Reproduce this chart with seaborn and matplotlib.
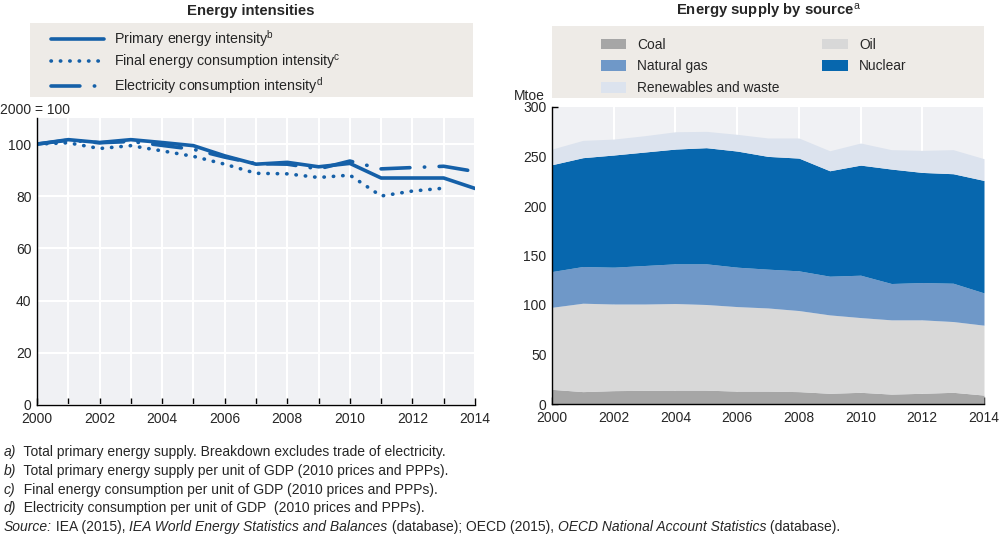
import matplotlib
matplotlib.use("Agg")
import matplotlib.pyplot as plt
from matplotlib import font_manager
from matplotlib.patches import Rectangle
import numpy as np
import seaborn as sns

# --- data -------------------------------------------------------------
years = list(range(2000, 2015))

# Energy intensities, 2000 = 100
primary = [100, 101.7, 100.6, 101.7, 100.6, 99.4, 95.5, 92.3, 93.0, 91.3, 92.6, 87.0, 87.0, 87.0, 83.0]
final = [100, 100.5, 98.3, 99.4, 97.4, 95.3, 92.3, 88.8, 88.6, 87.2, 88.1, 80.1, 82.0, 83.1, np.nan]
electricity = [100, 101.5, 100.5, 101.0, 99.5, 98.0, 95.0, 92.5, 92.3, 90.5, 93.5, 90.5, 91.0, 91.5, 89.5]

# Energy supply by source, Mtoe
coal = [14.8, 12.5, 13.5, 13.8, 14.0, 14.0, 13.0, 13.0, 12.5, 10.8, 11.8, 10.0, 10.8, 11.8, 9.0]
oil = [82.9, 89.3, 87.5, 87.2, 87.5, 86.5, 85.4, 84.0, 81.9, 79.2, 75.5, 75.0, 74.2, 71.5, 70.6]
gas = [36.1, 37.1, 37.2, 38.9, 40.1, 41.1, 39.8, 39.2, 40.1, 39.1, 42.8, 36.7, 37.7, 38.7, 32.6]
nuclear = [107.9, 109.9, 113.3, 114.6, 115.9, 117.3, 117.3, 113.9, 113.9, 106.5, 111.2, 115.6, 111.2, 110.6, 113.6]
renewables = [15.8, 17.5, 16.1, 16.5, 17.5, 16.5, 16.9, 18.6, 20.3, 20.2, 22.3, 19.6, 22.3, 24.3, 22.0]

src_labels = ["Coal", "Oil", "Natural gas", "Nuclear", "Renewables and waste"]

notes = [
    [("a)", "italic"), ("  Total primary energy supply. Breakdown excludes trade of electricity.", "normal")],
    [("b)", "italic"), ("  Total primary energy supply per unit of GDP (2010 prices and PPPs).", "normal")],
    [("c)", "italic"), ("  Final energy consumption per unit of GDP (2010 prices and PPPs).", "normal")],
    [("d)", "italic"), ("  Electricity consumption per unit of GDP  (2010 prices and PPPs).", "normal")],
    [("Source:", "italic"), (" IEA (2015), ", "normal"),
     ("IEA World Energy Statistics and Balances", "italic"),
     (" (database); OECD (2015), ", "normal"),
     ("OECD National Account Statistics", "italic"), (" (database).", "normal")],
]

# --- style ------------------------------------------------------------
try:
    font_manager.findfont("Liberation Sans Narrow", fallback_to_default=False)
    FONT, k = "Liberation Sans Narrow", 1.0
except ValueError:
    FONT, k = "Liberation Sans", 0.84

sns.set_theme(style="white")
plt.rcParams["font.family"] = [FONT, "DejaVu Sans"]
plt.rcParams["mathtext.fontset"] = "custom"
plt.rcParams["mathtext.rm"] = FONT
plt.rcParams["mathtext.it"] = FONT + ":italic"

LINE = "#1560a8"
PLOT_BG = "#f0f1f4"
LEG_BG = "#eeebe7"
TICK = 11.9 * k

fig = plt.figure(figsize=(10, 5.38), dpi=100)
W, H = 1000, 538


def fig_rect(x0, y0, x1, y1):
    # pixel box (top-left origin) -> figure fraction [left, bottom, w, h]
    return [x0 / W, 1 - y1 / H, (x1 - x0) / W, (y1 - y0) / H]


def style_axes(ax):
    ax.set_facecolor(PLOT_BG)
    for s in ["top", "right"]:
        ax.spines[s].set_visible(False)
    for s in ["left", "bottom"]:
        ax.spines[s].set_color("black")
        ax.spines[s].set_linewidth(1)
    ax.set_xlim(2000, 2014)
    ax.set_xlabel("")
    ax.set_ylabel("")
    ax.tick_params(axis="x", direction="in", length=5, width=1, color="black",
                   labelsize=TICK, pad=5, bottom=True)
    ax.tick_params(axis="y", labelsize=TICK, pad=4)


# --- left: energy intensities -----------------------------------------
ax1 = fig.add_axes(fig_rect(37, 118, 475, 405))
ax1.grid(True, color="white", lw=1.5)
ax1.set_axisbelow(True)

sns.lineplot(x=years, y=primary, ax=ax1, color=LINE, lw=2.6,
             label="Primary energy intensity$^{\\rm b}$")
sns.lineplot(x=years, y=final, ax=ax1, color=LINE, lw=2.6,
             label="Final energy consumption intensity$^{\\rm c}$")
sns.lineplot(x=years, y=electricity, ax=ax1, color=LINE, lw=2.6,
             label="Electricity consumption intensity$^{\\rm d}$")
ax1.lines[1].set_linestyle((0, (0.1, 2.5)))
ax1.lines[1].set_dash_capstyle("round")
ax1.lines[2].set_linestyle((0, (8, 4, 0.1, 4)))
ax1.lines[2].set_dash_capstyle("round")

style_axes(ax1)
ax1.set_ylim(0, 110)
ax1.set_yticks(range(0, 101, 20))
ax1.set_xticks(years)
ax1.set_xticklabels([str(y) if y % 2 == 0 else "" for y in years])
ax1.tick_params(axis="y", length=0)

handles, labels = ax1.get_legend_handles_labels()
ax1.get_legend().remove()
fig.add_artist(Rectangle((30 / W, 1 - 97 / H), 443 / W, 74 / H,
                         transform=fig.transFigure, facecolor=LEG_BG,
                         edgecolor="none", zorder=0))
fig.legend(handles, labels, loc="upper left", bbox_to_anchor=(44 / W, 1 - 21 / H),
           frameon=False, fontsize=12.2 * k, handlelength=3.7, handletextpad=0.7,
           labelspacing=0.26, borderpad=0)

fig.text(251 / W, 1 - 11 / H, "Energy intensities", ha="center", va="center",
         fontsize=12.8 * k, fontweight="bold")
fig.text(0, 1 - 110 / H, "2000 = 100", ha="left", va="center", fontsize=TICK)

# --- right: energy supply by source -----------------------------------
ax2 = fig.add_axes(fig_rect(552, 107, 984, 404))
ax2.grid(True, axis="x", color="white", lw=1.5)
ax2.set_axisbelow(True)
src_colors = ["#a6a6a6", "#d8d8d8", "#6f98c8", "#0767ae", "#dce3ee"]
polys = ax2.stackplot(years, coal, oil, gas, nuclear, renewables,
                      colors=src_colors, labels=src_labels, lw=0, zorder=2)

style_axes(ax2)
ax2.set_ylim(0, 300)
ax2.set_yticks(range(0, 301, 50))
ax2.set_xticks(range(2000, 2015, 2))
ax2.tick_params(axis="y", direction="in", length=4, width=1, color="black", left=True)
for s in ax2.spines.values():
    s.set_zorder(3)

fig.add_artist(Rectangle((552 / W, 1 - 98 / H), 432 / W, 72 / H,
                         transform=fig.transFigure, facecolor=LEG_BG,
                         edgecolor="none", zorder=0))
order = [0, 2, 4, 1, 3]
fig.legend([polys[i] for i in order], [src_labels[i] for i in order], ncol=2,
           loc="upper left", bbox_to_anchor=(594 / W, 1 - 31 / H), frameon=False,
           fontsize=11.8 * k, handlelength=1.85, handleheight=0.8,
           handletextpad=0.8, labelspacing=0.55, columnspacing=3.1, borderpad=0)

fig.text(768 / W, 1 - 11 / H, "Energy supply by source$^{\\rm a}$", ha="center",
         va="center", fontsize=12.8 * k, fontweight="bold")
fig.text(545 / W, 1 - 96 / H, "Mtoe", ha="right", va="center", fontsize=TICK)

# --- notes ------------------------------------------------------------
NOTE = 11.9 * k
renderer = fig.canvas.get_renderer()
for i, parts in enumerate(notes):
    x = 4
    y = 452 + 18.8 * i
    for s, st in parts:
        t = fig.text(x / W, 1 - y / H, s, style=st, fontsize=NOTE,
                     ha="left", va="center")
        x += t.get_window_extent(renderer).width

fig.savefig("out.png", dpi=100)
